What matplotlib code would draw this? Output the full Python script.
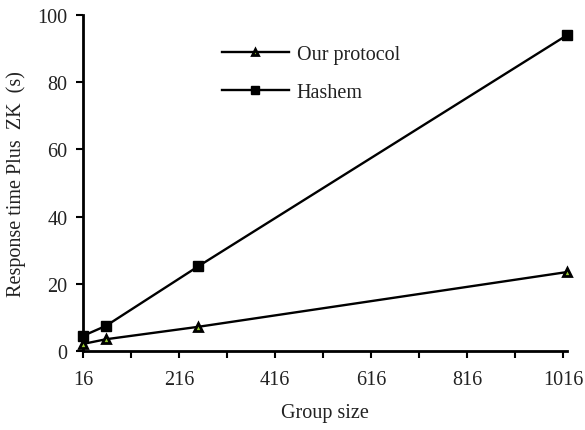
import matplotlib.pyplot as plt

plt.rcParams['font.family'] = ['Liberation Serif', 'DejaVu Serif']

# data
group_size = [16, 64, 256, 1024]
ours = [2.1, 3.5, 7.2, 23.5]
hashem = [4.5, 7.5, 25.2, 94.0]

x_ticks = list(range(16, 1017, 100))
x_labels = [str(t) if (t - 16) % 200 == 0 else '' for t in x_ticks]
y_ticks = [0, 20, 40, 60, 80, 100]

fig = plt.figure(figsize=(5.85, 4.31), dpi=100)
ax = fig.add_axes([83 / 585, (431 - 352) / 431, (567 - 83) / 585, (352 - 16) / 431])

ax.plot(group_size, ours, color='black', linewidth=1.7, marker='^',
        markersize=5.5, markerfacecolor='#9acd32', markeredgecolor='black',
        markeredgewidth=2.0, label='Our protocol', clip_on=False, zorder=3)
ax.plot(group_size, hashem, color='black', linewidth=1.7, marker='s',
        markersize=6.5, markerfacecolor='black', markeredgecolor='black',
        label='Hashem', clip_on=False, zorder=3)

ax.set_xlim(16, 1024)
ax.set_ylim(0, 100)
ax.set_xticks(x_ticks)
ax.set_xticklabels(x_labels)
ax.set_yticks(y_ticks)

for side in ['top', 'right']:
    ax.spines[side].set_visible(False)
for side in ['left', 'bottom']:
    ax.spines[side].set_linewidth(2.0)

ax.tick_params(axis='both', direction='out', length=5, width=1.5,
               labelsize=14.5, colors='black', labelcolor='#222222')
ax.tick_params(axis='x', pad=9)
ax.tick_params(axis='y', pad=6)

ax.set_xlabel('Group size', fontsize=14.5, color='#222222', labelpad=10)
ax.set_ylabel('Response time Plus  ZK  (s)', fontsize=14.5, color='#222222', labelpad=8)

ax.legend(loc='upper left', bbox_to_anchor=(0.25, 0.965), frameon=False,
          fontsize=14.5, handlelength=3.3, handletextpad=0.4, labelspacing=0.95,
          labelcolor='#222222', markerscale=0.9)

fig.savefig('out.png', dpi=100)
